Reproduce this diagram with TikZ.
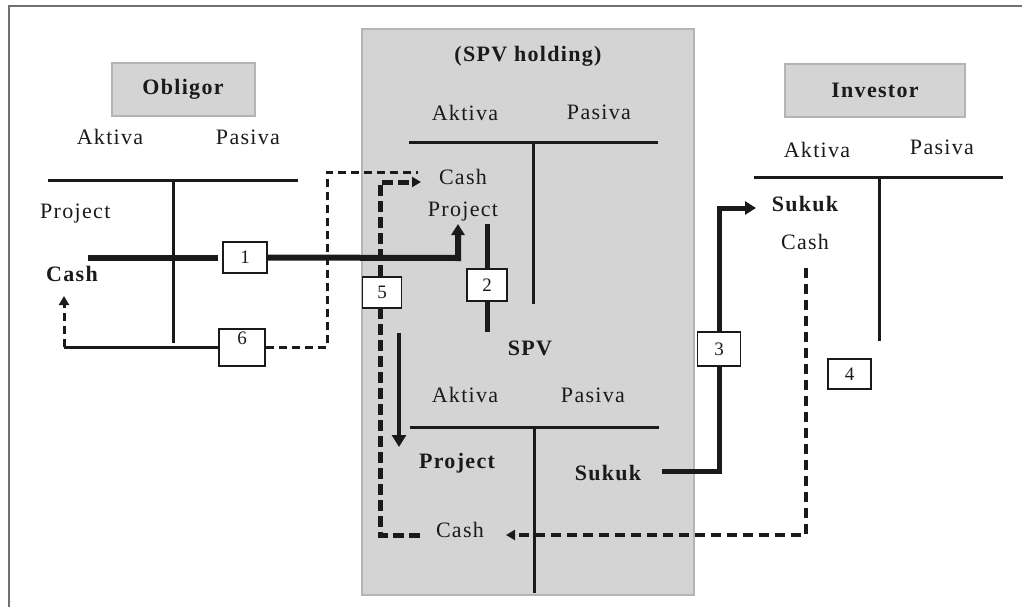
\documentclass[tikz,border=0pt]{standalone}
\usepackage{fontspec}
\setmainfont{Liberation Serif}[LetterSpace=6]
\usetikzlibrary{arrows.meta}
\definecolor{boxgray}{HTML}{D4D4D4}
\definecolor{edgegray}{HTML}{B4B4B4}
\definecolor{framegray}{HTML}{707070}
\definecolor{ink}{HTML}{1A1A1A}
\tikzset{
  lbl/.style={inner sep=0pt, text=ink, font=\fontsize{22}{26}\selectfont},
  blbl/.style={lbl, font=\fontsize{22}{26}\selectfont\bfseries},
  numbox/.style={draw=ink, fill=white, line width=1.5pt, inner sep=0pt, text=ink, font=\fontsize{19}{22}\selectfont},
  headbox/.style={draw=edgegray, fill=boxgray, line width=1.5pt, inner sep=0pt},
  tline/.style={line width=3pt, draw=ink},
  thickflow/.style={line width=6pt, draw=ink},
  flow/.style={line width=5pt, draw=ink},
  thinflow/.style={line width=3pt, draw=ink},
  dflow/.style={line width=3pt, draw=ink, dash pattern=on 8pt off 5pt},
  bigdflow/.style={line width=5pt, draw=ink, dash pattern=on 11pt off 5pt},
  tipA/.style={-{Triangle[length=11pt,width=13pt]}},
  tipB/.style={-{Triangle[length=9pt,width=10pt]}}
}
\begin{document}
\begin{tikzpicture}[x=1pt,y=-1pt]
\useasboundingbox (0,0) rectangle (1022,606);
% frame
\draw[framegray, line width=2pt] (1030,6) -- (9,6) -- (9,620);
% SPV holding background
\draw[headbox] (362,29) rectangle (694,595);
% Obligor
\node[headbox, minimum width=143pt, minimum height=53pt] (obox) at (183.5,89.5) {};
\node[blbl] (obl) at (183,89) {Obligor};
\node[lbl] (oAk) at (110,137) {Aktiva};
\node[lbl] (oPa) at (248,137) {Pasiva};
\node[lbl, anchor=west] (oProj) at (40,214) {Project};
\node[blbl, anchor=west] (oCash) at (46,274) {Cash};
\coordinate (oTl) at (48,180); \coordinate (oTr) at (298,180);
\coordinate (oTt) at (173,180); \coordinate (oTb) at (173,343);
\draw[tline] (oTl) -- (oTr);
\draw[tline] (oTt) -- (oTb);
% Investor
\node[headbox, minimum width=180pt, minimum height=53pt] (ibox) at (875,90.5) {};
\node[blbl] (inv) at (875,90) {Investor};
\node[lbl] (iAk) at (817,150) {Aktiva};
\node[lbl] (iPa) at (942,147) {Pasiva};
\node[blbl] (iSuk) at (805,204) {Sukuk};
\node[lbl] (iCash) at (805,242) {Cash};
\coordinate (iTl) at (754,177); \coordinate (iTr) at (1003,177);
\coordinate (iTt) at (879,177); \coordinate (iTb) at (879,341);
\draw[tline] (iTl) -- (iTr);
\draw[tline] (iTt) -- (iTb);
% SPV holding
\node[blbl] (hold) at (528,56) {(SPV holding)};
\node[lbl] (hAk) at (465,113) {Aktiva};
\node[lbl] (hPa) at (599,112) {Pasiva};
\node[lbl] (hCash) at (463,177) {Cash};
\node[lbl] (hProj) at (463,212) {Project};
\coordinate (hTl) at (409,142); \coordinate (hTr) at (658,142);
\coordinate (hTt) at (533,142); \coordinate (hTb) at (533,304);
\draw[tline] (hTl) -- (hTr);
\draw[tline] (hTt) -- (hTb);
% SPV
\node[blbl] (spv) at (530,348) {SPV};
\node[lbl] (sAk) at (465,395) {Aktiva};
\node[lbl] (sPa) at (593,395) {Pasiva};
\node[blbl] (sProj) at (457,463) {Project};
\node[blbl] (sSuk) at (608,473) {Sukuk};
\node[lbl] (sCash) at (460,530) {Cash};
\coordinate (sTl) at (410,427); \coordinate (sTr) at (659,427);
\coordinate (sTt) at (534,427); \coordinate (sTb) at (534,593);
\draw[tline] (sTl) -- (sTr);
\draw[tline] (sTt) -- (sTb);
% number boxes
\node[numbox, minimum width=44pt, minimum height=31pt] (b1) at (245,257.5) {1};
\node[numbox, minimum width=40pt, minimum height=32pt] (b2) at (487,285) {2};
\node[numbox, minimum width=43pt, minimum height=34pt] (b3) at (719,349) {3};
\node[numbox, minimum width=43pt, minimum height=30pt] (b4) at (849.5,374) {4};
\node[numbox, minimum width=39pt, minimum height=31pt] (b5) at (382,292.5) {5};
\node[numbox, minimum width=46pt, minimum height=37pt] (b6) at (242,347.5) {};
\node[lbl, font=\fontsize{19}{22}\selectfont, anchor=north] (b6n) at (b6.north) [yshift=-3pt] {6};
% flow 1
\coordinate (f1s) at (88,258);
\coordinate (f1w) at (218,258);
\coordinate (f1c) at (458,258);
\coordinate (f1e) at (458,224);
\draw[thickflow] (f1s) -- (f1w);
\draw[thickflow, tipA] (b1.east) -- (f1c) -- (f1e);
% flow 2
\coordinate (f2s) at (487,224); \coordinate (f2e) at (487,332);
\draw[flow] (f2s) -- (b2.north);
\draw[flow] (b2.south) -- (f2e);
% down arrow
\coordinate (dA) at (399,333); \coordinate (dB) at (399,447);
\draw[line width=4pt, draw=ink, -{Triangle[length=12pt,width=14pt]}] (dA) -- (dB);
% flow 3
\coordinate (f3s) at (662,471);
\coordinate (f3c) at (719,471);
\coordinate (f3t) at (719,208);
\coordinate (f3e) at (756,208);
\draw[flow] (f3s) -- (f3c) -- (b3.south);
\draw[flow, tipA] (b3.north) -- (f3t) -- (f3e);
% flow 4
\coordinate (f4s) at (806,268);
\coordinate (f4c) at (806,535);
\coordinate (f4e) at (506,535);
\draw[line width=3.5pt, draw=ink, dash pattern=on 10pt off 6pt, tipB] (f4s) -- (f4c) -- (f4e);
% flow 5
\coordinate (f5s) at (420,535);
\coordinate (f5c) at (380,535);
\coordinate (f5t) at (380,182);
\coordinate (f5e) at (421,182);
\draw[bigdflow] (f5s) -- (f5c) -- (b5.south -| f5c);
\draw[bigdflow, tipB] (b5.north -| f5t) -- (f5t) -- (f5e);
% flow 6
\coordinate (f6c) at (64,347);
\coordinate (f6e) at (64,296);
\coordinate (f6r) at (327,347);
\coordinate (f6t) at (327,172);
\coordinate (f6z) at (418,172);
\draw[thinflow] (b6.west |- f6c) -- (f6c);
\draw[dflow, tipB] (f6c) -- (f6e);
\draw[dflow] (b6.east |- f6r) -- (f6r) -- (f6t) -- (f6z);
\end{tikzpicture}
\end{document}
